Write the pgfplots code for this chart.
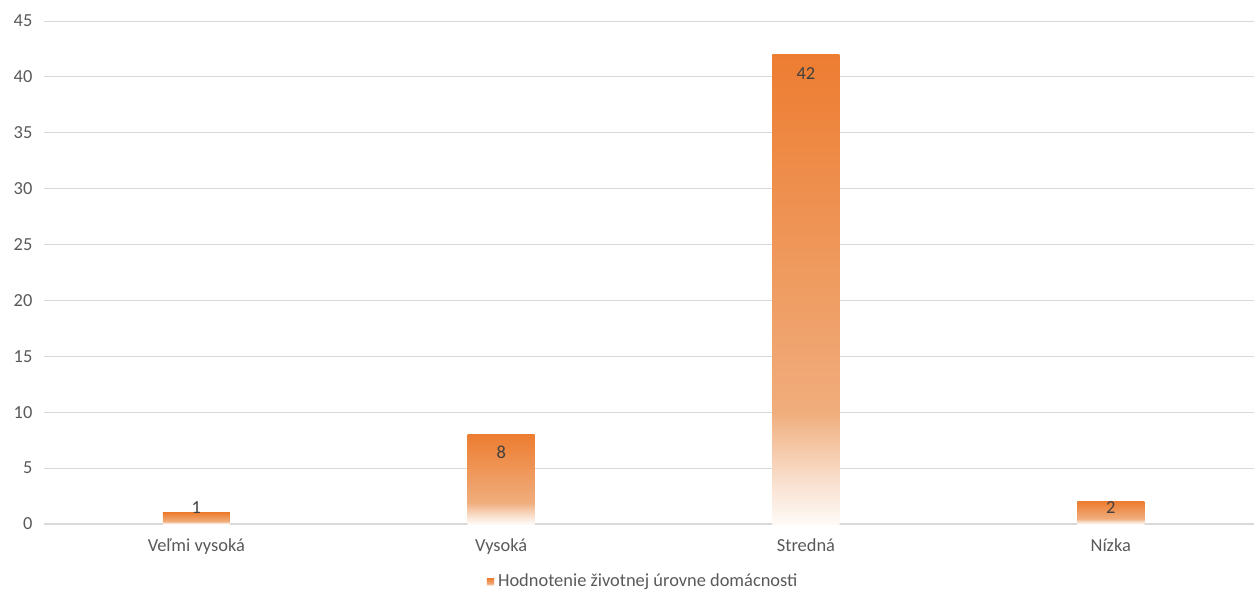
\documentclass[border=0pt]{standalone}
\usepackage{fontspec}
\setmainfont{Carlito}
\usepackage{pgfplots}
\pgfplotsset{compat=1.18}
\definecolor{orA}{HTML}{ED7D31}
\definecolor{orB}{HTML}{F0AD7C}
\definecolor{orC}{HTML}{F9E0CE}
\definecolor{orD}{HTML}{FEFAF7}
\definecolor{gridgray}{HTML}{D9D9D9}
\definecolor{ticktext}{HTML}{595959}
\definecolor{labeltext}{HTML}{404040}
\pgfdeclareverticalshading{barshade}{100bp}{color(0bp)=(orD); color(25bp)=(orD); color(29.5bp)=(orC); color(37bp)=(orB); color(75bp)=(orA); color(100bp)=(orA)}
\pgfplotsset{
  mybar/.style={ybar, bar width=33.5bp, bar shift=0pt, draw=none, shading=barshade,
    nodes near coords,
    nodes near coords style={anchor=center, yshift=#1, text=labeltext,
      font=\fontsize{9.2bp}{11bp}\selectfont, /pgf/number format/assume math mode=true}},
}
\begin{document}
\begin{tikzpicture}
\useasboundingbox (-22bp,-33bp) rectangle (605bp,262bp);
\begin{axis}[
  at={(0,0)}, anchor=south west,
  scale only axis, width=605bp, height=251.5bp,
  ymin=0, ymax=45, ytick={0,5,...,45},
  xmin=-0.5, xmax=3.47,
  xtick={0,1,2,3},
  xticklabels={Veľmi vysoká, Vysoká, Stredná, Nízka},
  axis x line*=bottom, axis y line*=left,
  separate axis lines,
  x axis line style={draw=gridgray, line width=0.6bp, -},
  y axis line style={draw=none},
  major tick length=0pt,
  ymajorgrids, grid style={draw=gridgray, line width=0.5bp},
  tick label style={font=\fontsize{9.2bp}{11bp}\selectfont, text=ticktext},
  yticklabel style={xshift=-2.3bp},
  xticklabel style={yshift=-4bp},
  /pgf/number format/assume math mode=true,
  legend style={at={(0.496,0)}, anchor=center, yshift=-29bp, draw=none,
    font=\fontsize{9.2bp}{11bp}\selectfont, text=ticktext, fill=none},
  legend image code/.code={\shade[shading=barshade] (0bp,-1.8bp) rectangle (3.6bp,1.8bp);},
  legend cell align=left,
]
\addplot[mybar=2.5bp] coordinates {(0,1)};
\addlegendentry{Hodnotenie životnej úrovne domácnosti}
\addplot[mybar=-9bp, forget plot] coordinates {(1,8)};
\addplot[mybar=-9.5bp, forget plot] coordinates {(2,42)};
\addplot[mybar=-3bp, forget plot] coordinates {(3,2)};
\end{axis}
\end{tikzpicture}
\end{document}
